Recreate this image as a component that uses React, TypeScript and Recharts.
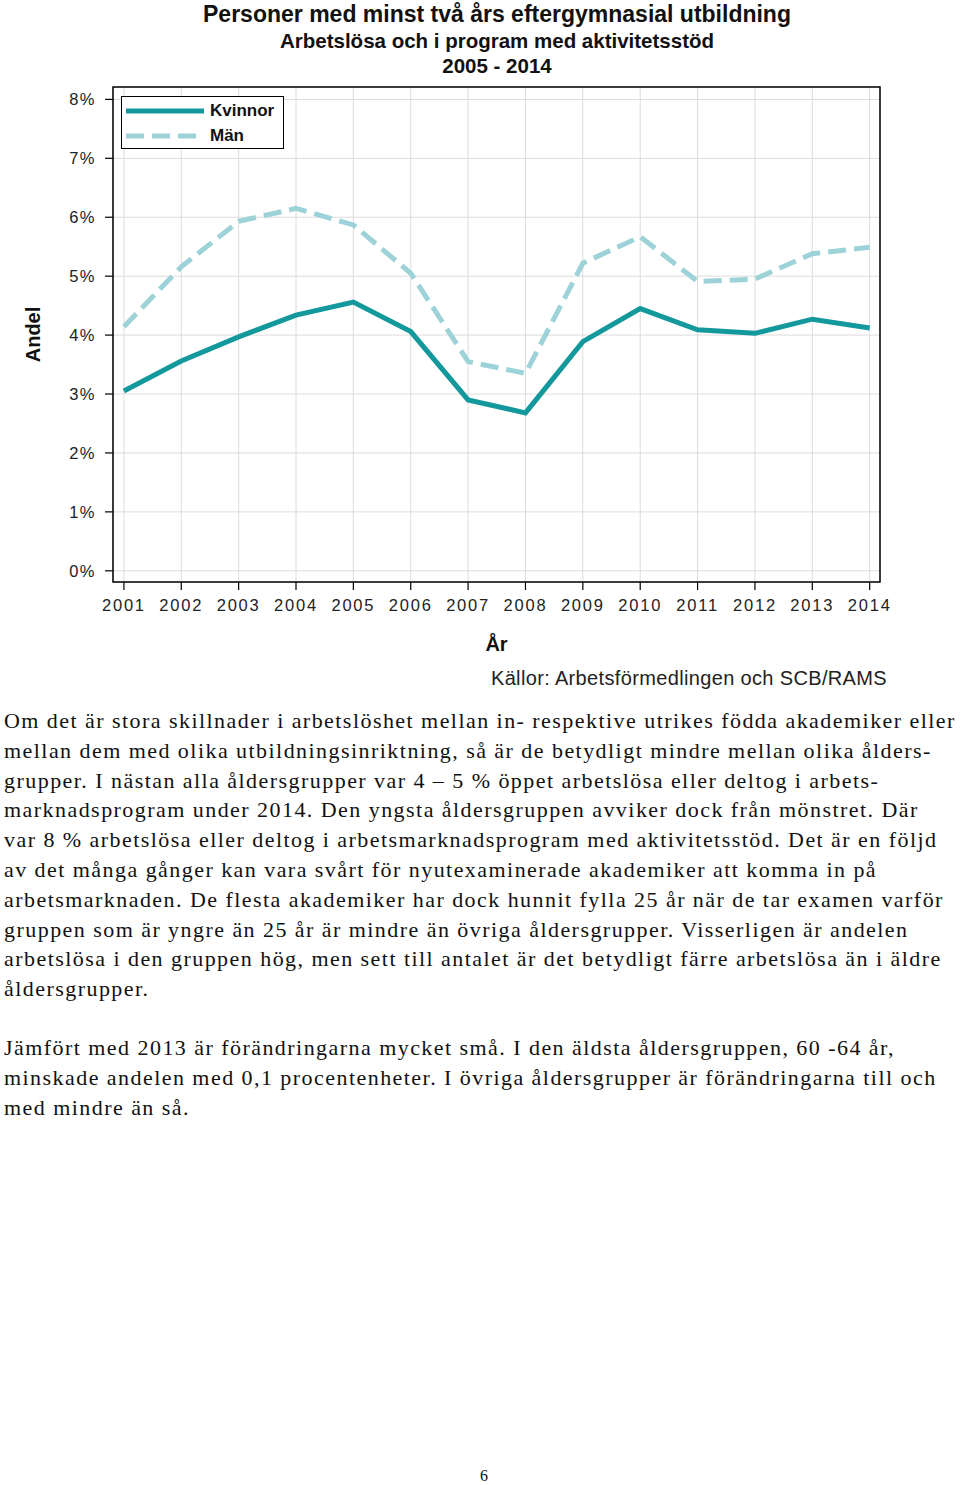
import React from "react";
import { LineChart, Line, XAxis, YAxis, CartesianGrid, Legend, ReferenceArea } from "recharts";

const years = [2001, 2002, 2003, 2004, 2005, 2006, 2007, 2008, 2009, 2010, 2011, 2012, 2013, 2014];
const kvinnor = [3.05, 3.56, 3.97, 4.34, 4.56, 4.06, 2.9, 2.68, 3.89, 4.45, 4.09, 4.03, 4.27, 4.12];
const man = [4.14, 5.16, 5.93, 6.15, 5.87, 5.05, 3.55, 3.35, 5.22, 5.67, 4.91, 4.95, 5.38, 5.49];
const yTicks = [0, 1, 2, 3, 4, 5, 6, 7, 8];

const series = [
  { key: "kvinnor", name: "Kvinnor", color: "#13989c", dash: undefined as string | undefined },
  { key: "man", name: "Män", color: "#9dd3d8", dash: "18 8" },
];

const data = years.map((year, i) => ({ year, kvinnor: kvinnor[i], man: man[i] }));

const xDomain = [2000.81, 2014.18];
const yDomain = [-0.19, 8.21];

const paragraph1 = [
  "Om det är stora skillnader i arbetslöshet mellan in- respektive utrikes födda akademiker eller",
  "mellan dem med olika utbildningsinriktning, så är de betydligt mindre mellan olika ålders-",
  "grupper. I nästan alla åldersgrupper var 4 – 5 % öppet arbetslösa eller deltog i arbets-",
  "marknadsprogram under 2014. Den yngsta åldersgruppen avviker dock från mönstret. Där",
  "var 8 % arbetslösa eller deltog i arbetsmarknadsprogram med aktivitetsstöd. Det är en följd",
  "av det många gånger kan vara svårt för nyutexaminerade akademiker att komma in på",
  "arbetsmarknaden. De flesta akademiker har dock hunnit fylla 25 år när de tar examen varför",
  "gruppen som är yngre än 25 år är mindre än övriga åldersgrupper. Visserligen är andelen",
  "arbetslösa i den gruppen hög, men sett till antalet är det betydligt färre arbetslösa än i äldre",
  "åldersgrupper.",
];
const paragraph2 = [
  "Jämfört med 2013 är förändringarna mycket små. I den äldsta åldersgruppen, 60 -64 år,",
  "minskade andelen med 0,1 procentenheter. I övriga åldersgrupper är förändringarna till och",
  "med mindre än så.",
];

const sans = "'Liberation Sans', Arial, sans-serif";
const serif = "'Liberation Serif', 'Times New Roman', serif";

function LegendBox() {
  return (
    <div
      style={{
        width: 163,
        height: 53,
        border: "1.5px solid #000",
        boxSizing: "border-box",
        background: "#fff",
        position: "relative",
        fontFamily: sans,
      }}
    >
      {series.map((s, i) => (
        <div
          key={s.key}
          style={{ position: "absolute", left: 2, top: 5 + i * 25, height: 18, display: "flex", alignItems: "center" }}
        >
          <svg width={82} height={8}>
            <line
              x1={2}
              x2={80}
              y1={4}
              y2={4}
              stroke={s.color}
              strokeWidth={5}
              strokeDasharray={s.dash}
            />
          </svg>
          <span style={{ marginLeft: 4, fontSize: 17, fontWeight: "bold", color: "#111" }}>{s.name}</span>
        </div>
      ))}
    </div>
  );
}

export default function App() {
  return (
    <div style={{ position: "absolute", left: 0, top: 0, width: 960, height: 1485, background: "#fff" }}>
      <div style={{ position: "absolute", left: 0, width: 994, top: 0, textAlign: "center", fontFamily: sans, fontWeight: "bold", color: "#111" }}>
        <div style={{ fontSize: 23, lineHeight: "28px" }}>Personer med minst två års eftergymnasial utbildning</div>
        <div style={{ fontSize: 20.5, lineHeight: "25px" }}>Arbetslösa och i program med aktivitetsstöd</div>
        <div style={{ fontSize: 20.5, lineHeight: "25px" }}>2005 - 2014</div>
      </div>

      <div style={{ position: "absolute", left: 0, top: 0 }}>
        <LineChart width={960} height={700} data={data} margin={{ top: 87, right: 80, bottom: 88, left: 13 }}>
          <CartesianGrid stroke="#dcdcdc" strokeWidth={1} />
          <XAxis
            dataKey="year"
            type="number"
            domain={xDomain}
            ticks={years}
            allowDataOverflow
            height={30}
            axisLine={false}
            tickLine={{ stroke: "#000", strokeWidth: 1.2 }}
            tickSize={8}
            tickMargin={9}
            tick={{ fontSize: 16.5, fill: "#222", fontFamily: sans, letterSpacing: 1.8 }}
            label={({ viewBox }: any) => (
              <text
                x={viewBox.x + viewBox.width / 2}
                y={viewBox.y + 62}
                textAnchor="middle"
                dominantBaseline="central"
                fontFamily={sans}
                fontWeight="bold"
                fontSize={20}
                fill="#111"
              >
                År
              </text>
            )}
          />
          <YAxis
            type="number"
            domain={yDomain}
            ticks={yTicks}
            allowDataOverflow
            width={100}
            axisLine={false}
            tickLine={{ stroke: "#000", strokeWidth: 1.2 }}
            tickSize={8}
            tickMargin={9}
            tickFormatter={(v: number) => `${v}%`}
            tick={{ fontSize: 16.5, fill: "#222", fontFamily: sans, letterSpacing: 1.5 }}
            label={({ viewBox }: any) => (
              <text
                x={viewBox.x + 20}
                y={viewBox.y + viewBox.height / 2}
                textAnchor="middle"
                dominantBaseline="central"
                transform={`rotate(-90 ${viewBox.x + 20} ${viewBox.y + viewBox.height / 2})`}
                fontFamily={sans}
                fontWeight="bold"
                fontSize={20}
                fill="#111"
              >
                Andel
              </text>
            )}
          />
          {series.map((s) => (
            <Line
              key={s.key}
              dataKey={s.key}
              name={s.name}
              stroke={s.color}
              strokeWidth={5}
              strokeDasharray={s.dash}
              dot={false}
              activeDot={false}
              isAnimationActive={false}
              strokeLinejoin="miter"
            />
          ))}
          <ReferenceArea
            x1={xDomain[0]}
            x2={xDomain[1]}
            y1={yDomain[0]}
            y2={yDomain[1]}
            fill="none"
            stroke="#000"
            strokeWidth={1.5}
            ifOverflow="visible"
          />
          <Legend
            layout="vertical"
            align="center"
            verticalAlign="middle"
            wrapperStyle={{ left: 121, top: 96, width: 163, height: 53 }}
            content={() => <LegendBox />}
          />
        </LineChart>
      </div>

      <div
        style={{
          position: "absolute",
          right: 73,
          top: 667,
          fontFamily: sans,
          fontSize: 20,
          letterSpacing: 0.35,
          color: "#222",
          whiteSpace: "nowrap",
        }}
      >
        Källor: Arbetsförmedlingen och SCB/RAMS
      </div>

      <div style={{ position: "absolute", left: 4, top: 706, fontFamily: serif, fontSize: 22, lineHeight: "29.8px", color: "#111", letterSpacing: 1.45 }}>
        {paragraph1.map((line, i) => (
          <div key={i} style={{ whiteSpace: "nowrap" }}>{line}</div>
        ))}
        <div style={{ height: 29 }} />
        {paragraph2.map((line, i) => (
          <div key={i} style={{ whiteSpace: "nowrap" }}>{line}</div>
        ))}
      </div>

      <div style={{ position: "absolute", left: 0, width: 968, top: 1467, textAlign: "center", fontFamily: serif, fontSize: 16, color: "#111" }}>
        6
      </div>
    </div>
  );
}
